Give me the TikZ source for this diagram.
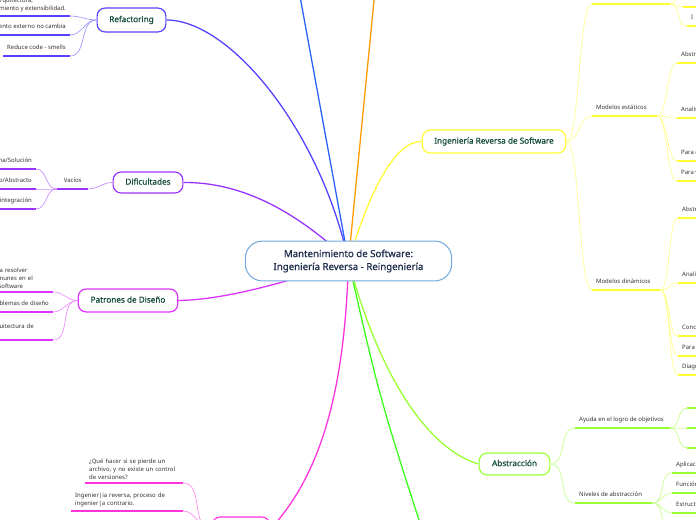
\documentclass[tikz,border=0pt]{standalone}
\usepackage{fontspec}
\setmainfont{Noto Sans}
\newfontfamily\topicfont{Noto Sans}[FakeBold=0.7]
\usepackage{xcolor}
\usetikzlibrary{backgrounds}

\definecolor{rootline}{HTML}{6FA8DC}
\definecolor{roottext}{HTML}{1F2D4D}
\definecolor{topictext}{HTML}{144B3C}
\definecolor{leaftext}{HTML}{333333}
\definecolor{ingyellow}{HTML}{FFFF33}
\definecolor{abslime}{HTML}{99FF33}
\definecolor{grnline}{HTML}{3CFF1E}
\definecolor{orgline}{HTML}{FF9A00}
\definecolor{blueline}{HTML}{2962FF}
\definecolor{refblue}{HTML}{5544FF}
\definecolor{difpurple}{HTML}{9933FF}
\definecolor{patviolet}{HTML}{DD33FF}
\definecolor{botpink}{HTML}{FF33DD}

% fixed-width, left-aligned leaf text (no wrapping)
\newcommand{\wbox}[2]{\makebox[#1bp][l]{#2}}

\tikzset{
  rootnode/.style={draw=rootline, line width=1, fill=white, rounded corners=17,
    minimum width=207, minimum height=40, align=center, text=roottext,
    font=\topicfont\fontsize{9.7}{13}\selectfont},
  topic/.style={draw=#1, line width=1.2, fill=white, rounded corners=8,
    minimum height=22, text depth=2, text=topictext, font=\topicfont\fontsize{8.2}{10}\selectfont},
  branch/.style={draw=#1, line width=1.3},
  twig/.style={draw=#1!55, line width=0.7},
  uline/.style={draw=#1, line width=1.8},
  leaf/.style={inner xsep=4, inner ysep=4.5, text=leaftext, align=left,
    font=\fontsize{6}{8}\selectfont},
  rleaf/.style={leaf, anchor=south west, text depth=1.5},
  lleaf/.style={leaf, anchor=south east, text depth=1.5},
  rmulti/.style={leaf, anchor=south west, inner ysep=3.5},
  lmulti/.style={leaf, anchor=south east, inner ysep=3.5},
}

\begin{document}
\begin{tikzpicture}[x=1bp,y=-1bp]
\clip (0,0) rectangle (696,520);

% centre and main topics
\node[rootnode] (root) at (348.5,261) {Mantenimiento de Software:\\Ingeniería Reversa - Reingeniería};
\node[topic=ingyellow, minimum width=144, minimum height=23] (ing) at (494,141.5) {Ingeniería Reversa de Software};
\node[topic=refblue, minimum width=69, minimum height=24] (ref) at (131.5,20) {Refactoring};
\node[topic=difpurple, minimum width=70, minimum height=21] (dif) at (148,182.5) {Dificultades};
\node[topic=patviolet, minimum width=100, minimum height=23] (pat) at (128,300.5) {Patrones de Diseño};
\node[topic=abslime, minimum width=71, minimum height=22] (abs) at (514.5,464) {Abstracción};
\node[topic=botpink, minimum width=58, minimum height=24] (bt) at (241,529) {};
\coordinate (od) at (376,-20);
\coordinate (bd) at (297,-20);
\coordinate (gd) at (432,560);

\begin{scope}[on background layer]
\draw[branch=blueline] (root.center) -- (bd);
\draw[branch=orgline] (root.center) -- (od);
\draw[branch=refblue] (root.center) .. controls (320,130) and (230,20) .. (ref.east);
\draw[branch=difpurple] (root.center) .. controls (290,205) and (235,182) .. (dif.east);
\draw[branch=patviolet] (root.center) .. controls (280,285) and (220,300) .. (pat.east);
\draw[branch=botpink] (root.center) .. controls (345,380) and (325,470) .. (bt.east);
\draw[branch=grnline] (root.center) .. controls (380,400) .. (gd);
\draw[branch=abslime] (root.center) .. controls (380,380) and (430,450) .. (abs.west);
\draw[branch=ingyellow] (root.center) .. controls (370,190) and (395,141) .. (ing.west);
\end{scope}

% Ingenieria Reversa de Software
\node[rleaf, minimum width=78] (tt) at (592,4) {};
\node[rleaf] (ms) at (592,116) {\wbox{57}{Modelos estáticos}};
\node[rleaf] (md) at (592,290) {\wbox{60}{Modelos dinámicos}};
\node[rleaf, minimum width=30] (t0) at (683,-12) {};
\node[rleaf, minimum width=30] (t1) at (683,7) {};
\node[rleaf] (t2) at (687,26) {I};
\node[rleaf] (e1) at (677,63) {Abstracción};
\node[rleaf] (e2) at (677,118) {Analisis};
\node[rleaf] (e3) at (677,161) {Para comprender};
\node[rleaf] (e4) at (677,181) {Para visualizar};
\node[rleaf] (d1) at (678,218) {Abstracción};
\node[rleaf] (d2) at (678,283) {Analisis};
\node[rleaf] (d3) at (678,336) {Concurrencia};
\node[rleaf] (d4) at (678,356) {Para comprender};
\node[rleaf] (d5) at (678,375) {Diagramas};
\foreach \n in {tt,ms,md}
  \draw[twig=ingyellow] (ing.east) .. controls +(14,0) and +(-14,0) .. (\n.south west);
\foreach \n in {t0,t1,t2}
  \draw[twig=ingyellow] (tt.south east) to[out=0,in=180] (\n.south west);
\foreach \n in {e1,e2,e3,e4}
  \draw[twig=ingyellow] (ms.south east) .. controls +(10,0) and +(-10,0) .. (\n.south west);
\foreach \n in {d1,d2,d3,d4,d5}
  \draw[twig=ingyellow] (md.south east) .. controls +(10,0) and +(-10,0) .. (\n.south west);
\foreach \n in {tt,ms,md,t0,t1,t2,e1,e2,e3,e4,d1,d2,d3,d4,d5}
  \draw[uline=ingyellow] (\n.south west) -- (\n.south east);

% Abstraccion
\node[rleaf] (ay) at (575,428) {\wbox{87}{Ayuda en el logro de objetivos}};
\node[rleaf] (nv) at (575,503) {\wbox{69}{Niveles de abstracción}};
\node[rleaf, minimum width=30] (a1) at (687,408) {};
\node[rleaf, minimum width=30] (a2) at (687,428) {};
\node[rleaf, minimum width=30] (a3) at (687,448) {};
\node[rleaf] (n1) at (672,473) {Aplicación};
\node[rleaf] (n2) at (672,493) {Función};
\node[rleaf] (n3) at (672,513) {Estructura};
\node[rleaf, minimum width=30] (n4) at (672,533) {};
\foreach \n in {ay,nv}
  \draw[twig=abslime] (abs.east) to[out=0,in=180] (\n.south west);
\foreach \n in {a1,a2,a3}
  \draw[twig=abslime] (ay.south east) to[out=0,in=180] (\n.south west);
\foreach \n in {n1,n2,n3,n4}
  \draw[twig=abslime] (nv.south east) to[out=0,in=180] (\n.south west);
\foreach \n in {ay,nv,a1,a2,a3,n1,n2,n3,n4}
  \draw[uline=abslime] (\n.south west) -- (\n.south east);

% Refactoring
\node[lmulti] (r1) at (70,16) {Mejora arquitectura,\\mantenimiento y extensibilidad.};
\node[lleaf] (r2) at (70,35) {El comportamiento externo no cambia};
\node[lleaf] (r3) at (70,56) {Reduce code - smells};
\foreach \n in {r1,r2,r3}{
  \draw[twig=refblue] (ref.west) to[out=180,in=0] (\n.south east);
  \draw[uline=refblue] (\n.south west) -- (\n.south east);
}

% Dificultades
\node[lleaf] (vc) at (88,189) {\wbox{23}{\hspace*{3bp}Vacíos}};
\node[lleaf] (v1) at (36,169) {Problema/Solución};
\node[lleaf] (v2) at (36,189) {Concreto/Abstracto};
\node[lleaf] (v3) at (36,209) {Falta de integración};
\draw[twig=difpurple] (dif.west) to[out=180,in=0] (vc.south east);
\foreach \n in {v1,v2,v3}
  \draw[twig=difpurple] (vc.south west) to[out=180,in=0] (\n.south east);
\foreach \n in {vc,v1,v2,v3}
  \draw[uline=difpurple] (\n.south west) -- (\n.south east);

% Patrones de Diseno
\node[lmulti, text width=90] (p1) at (53,292) {Se utilizan para resolver\\problemas comunes en el\\desarrollo de software};
\node[lleaf] (p2) at (53,312) {Resuelve problemas de diseño};
\node[lmulti, text width=90] (p3) at (53,340) {Definen la arquitectura de\\software};
\foreach \n in {p1,p2,p3}{
  \draw[twig=patviolet] (pat.west) to[out=180,in=0] (\n.south east);
  \draw[uline=patviolet] (\n.south west) -- (\n.south east);
}

% rama inferior
\node[rmulti, text width=90] (q1) at (85,483) {¿Qué hacer si se pierde un\\archivo, y no existe un control\\de versiones?};
\node[rmulti, text width=104] (q2) at (71,511) {Ingenier|ia reversa, proceso de\\ingenier|a contrario.};
\foreach \n in {q1,q2}{
  \draw[twig=botpink] (bt.west) to[out=180,in=0] (\n.south east);
  \draw[uline=botpink] (\n.south west) -- (\n.south east);
}

\end{tikzpicture}
\end{document}
